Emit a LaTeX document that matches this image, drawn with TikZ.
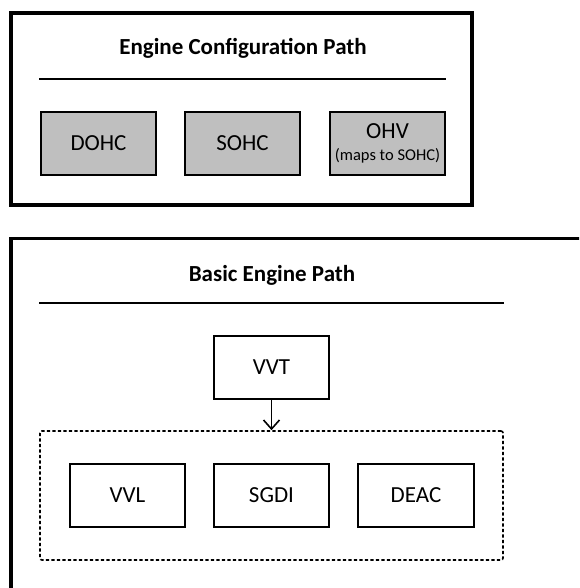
\documentclass[tikz,border=0pt]{standalone}
\usepackage{fontspec}
\setmainfont{Carlito}
\usetikzlibrary{arrows.meta}

\definecolor{boxgray}{HTML}{BFBFBF}
\tikzset{
  frame/.style={draw=black, line width=3.6pt},
  rule/.style={draw=black, line width=1.5pt},
  title/.style={font=\fontsize{23}{27}\selectfont\bfseries, anchor=base, inner sep=0pt},
  cfgbox/.style={draw=black, fill=boxgray, line width=1.8pt,
    minimum width=115.5pt, minimum height=63.5pt, inner sep=0pt,
    font=\fontsize{23}{27}\selectfont, align=center},
  featbox/.style={draw=black, fill=white, line width=1.8pt,
    minimum width=115.5pt, minimum height=63.5pt, inner sep=0pt,
    font=\fontsize{23}{27}\selectfont},
  groupbox/.style={draw=black, line width=1.6pt, dash pattern=on 3.2pt off 2.3pt,
    rounded corners=2pt, minimum width=463pt, minimum height=129pt, inner sep=0pt},
  link/.style={draw=black, line width=1.6pt, -{Straight Barb[length=9pt,width=16pt,line width=1.6pt]}}
}

\begin{document}
\begin{tikzpicture}[x=1pt,y=-1pt]
  \useasboundingbox (0,0) rectangle (579,588);
  \clip (0,0) rectangle (579,588);

  % Engine configuration panel
  \draw[frame] (11,13) rectangle (472,205);
  \node[title] (cfgtitle) at (243,55) {Engine Configuration Path};
  \coordinate (cfgrl) at (39,79);
  \coordinate (cfgrr) at (446,79);
  \draw[rule] (cfgrl) -- (cfgrr);
  \node[cfgbox] (dohc) at (98.5,143.5) {DOHC};
  \node[cfgbox] (sohc) at (242.5,143.5) {SOHC};
  \node[cfgbox] (ohv) at (387.5,143.5) {OHV\\[-5pt]{\fontsize{16.5}{18}\selectfont (maps to SOHC)}};

  % Basic engine panel (continues past the page edge)
  \draw[frame] (11,238.5) rectangle (640,650);
  \node[title] (basictitle) at (272,281) {Basic Engine Path};
  \coordinate (basrl) at (39,303);
  \coordinate (basrr) at (504,303);
  \draw[rule] (basrl) -- (basrr);

  \node[featbox] (vvt) at (271.5,367.5) {VVT};
  \node[groupbox] (group) at (271.5,495.5) {};
  \node[featbox] (vvl) at (127.5,495.5) {VVL};
  \node[featbox] (sgdi) at (271.5,495.5) {SGDI};
  \node[featbox] (deac) at (416,495.5) {DEAC};

  \draw[link] (vvt.south) -- (group.north);
\end{tikzpicture}
\end{document}
